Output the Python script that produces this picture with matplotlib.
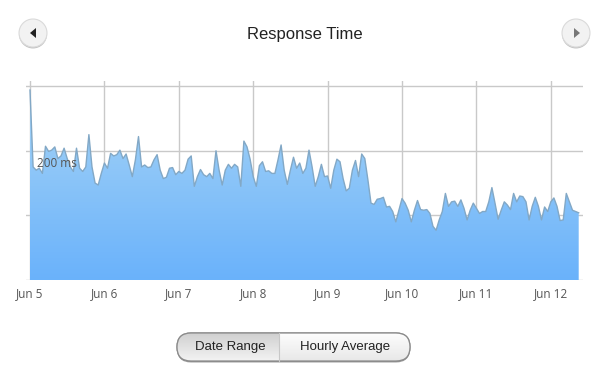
import numpy as np
import matplotlib
matplotlib.use("Agg")
import matplotlib.pyplot as plt
from matplotlib.colors import LinearSegmentedColormap
from matplotlib.patches import Circle, FancyBboxPatch, Polygon

# hourly average response time (ms), starting Jun 5 00:00
response_ms = [
    294, 175, 170, 173, 165, 207, 199, 201, 206, 188, 192, 204, 188, 175, 168, 204,
    173, 168, 175, 225, 175, 150, 147, 165, 181, 173, 196, 192, 194, 201, 188, 195,
    178, 160, 186, 222, 175, 178, 174, 175, 186, 194, 170, 157, 159, 173, 174, 163,
    168, 165, 170, 187, 192, 145, 160, 171, 163, 160, 165, 157, 200, 170, 147, 170,
    179, 173, 179, 175, 145, 215, 206, 187, 160, 145, 177, 183, 168, 169, 165, 165,
    186, 209, 170, 148, 170, 190, 173, 181, 165, 173, 201,
    175, 145, 160, 179, 160, 161, 142, 170, 187, 183, 157, 138, 142, 170, 185, 160,
    195, 188, 155, 119, 117, 125, 126, 128, 113, 114, 106, 90, 108, 126, 119, 108,
    90, 108, 123, 109, 108, 109, 103, 83, 77, 93, 106, 134, 114, 121, 122, 114,
    124, 111, 93, 108, 119, 111, 103, 106, 106, 121, 143, 119, 94, 108, 121, 116,
    109, 134, 121, 130, 129, 121, 93, 114, 128, 114, 93, 113, 106, 121, 127, 114,
    92, 93, 134, 121, 108, 106, 104,
]
day_labels = ["Jun 5", "Jun 6", "Jun 7", "Jun 8", "Jun 9", "Jun 10", "Jun 11", "Jun 12"]
grid_ms = [0, 100, 200, 300]

hours = np.arange(len(response_ms))
W, H = 610, 376

fig = plt.figure(figsize=(W / 100, H / 100), dpi=100)
fig.patch.set_facecolor("white")

# plot area in pixel terms: x 26..583, y 81..280
ax = fig.add_axes([26 / W, 1 - 280 / H, (583 - 26) / W, (280 - 81) / H])
ax.set_xlim(-4 / 3.1, 553 / 3.1)
ax.set_ylim(0, 308)
for s in ax.spines.values():
    s.set_visible(False)

ax.set_xticks(np.arange(len(day_labels)) * 24)
ax.set_xticklabels(day_labels, fontfamily="Open Sans", fontsize=8.5, color="#555555")
ax.set_yticks(grid_ms)
ax.set_yticklabels([])
ax.tick_params(length=0, pad=5)
ax.grid(True, color="#c9c9c9", linewidth=1)
ax.set_axisbelow(True)

# gradient area fill
cmap = LinearSegmentedColormap.from_list("blu", ["#6ab2fb", "#a8d5f6"])
grad = np.linspace(0, 1, 256).reshape(-1, 1)
im = ax.imshow(grad, extent=[hours[0], hours[-1], 0, 300], origin="lower",
               aspect="auto", cmap=cmap, zorder=2)
poly = ax.fill_between(hours, response_ms, 0, facecolor="none", edgecolor="none")
im.set_clip_path(poly.get_paths()[0], transform=ax.transData)
ax.plot(hours, response_ms, color="#82a8c6", linewidth=1, zorder=3)
ax.text(2.2, 180, "200 ms", fontfamily="Open Sans", fontsize=8.5, color="#555555",
        va="center", ha="left", zorder=4)

# overlay for title and controls, in pixel coordinates
ov = fig.add_axes([0, 0, 1, 1], zorder=5)
ov.set_xlim(0, W)
ov.set_ylim(H, 0)
ov.axis("off")
ov.patch.set_alpha(0)

ov.text(305, 35, "Response Time", fontfamily="Liberation Sans", fontsize=12,
        color="#222222", ha="center", va="center")

for cx, pts, col in [(33, [(30, 33), (36, 28), (36, 38)], "#222222"),
                     (576, [(580, 33), (574, 28), (574, 38)], "#777777")]:
    ov.add_patch(Circle((cx, 34.5), 14, facecolor="#c4c4c4", edgecolor="none"))
    ov.add_patch(Circle((cx, 33), 14, facecolor="#f2f2f2", edgecolor="#dadada", linewidth=0.8))
    ov.add_patch(Polygon(pts, closed=True, facecolor=col, edgecolor="none"))

# segmented control
x0, x1, y0, y1, mid = 177, 410, 333, 361, 279
ov.add_patch(FancyBboxPatch((x0, y0 + 1.5), x1 - x0, y1 - y0, boxstyle="round,pad=0,rounding_size=14",
                            facecolor="#a0a0a0", edgecolor="none"))
body = FancyBboxPatch((x0, y0), x1 - x0, y1 - y0, boxstyle="round,pad=0,rounding_size=14",
                      facecolor="#f6f6f6", edgecolor="#8a8a8a", linewidth=0.9)
ov.add_patch(body)
seg = LinearSegmentedColormap.from_list("seg", ["#fdfdfd", "#e8e8e8"])
right = ov.imshow(np.linspace(0, 1, 64).reshape(-1, 1), extent=[x0, x1, y1, y0],
                  cmap=seg, aspect="auto", zorder=1)
right.set_clip_path(body)
seg_l = LinearSegmentedColormap.from_list("segl", ["#d0d0d0", "#f3f3f3"])
left = ov.imshow(np.linspace(0, 1, 64).reshape(-1, 1), extent=[x0, mid, y0, y1],
                 cmap=seg_l, aspect="auto", zorder=1, origin="lower")
left.set_clip_path(body)
ov.add_patch(FancyBboxPatch((x0, y0), x1 - x0, y1 - y0, boxstyle="round,pad=0,rounding_size=14",
                            facecolor="none", edgecolor="#8a8a8a", linewidth=0.9, zorder=2))
ov.plot([mid, mid], [y0, y1], color="#c8c8c8", linewidth=0.8, zorder=2)
ov.text((x0 + mid) / 2 + 2, 347, "Date Range", fontfamily="Liberation Sans", fontsize=9.5,
        color="#222222", ha="center", va="center", zorder=3)
ov.text((mid + x1) / 2 + 1, 347, "Hourly Average", fontfamily="Liberation Sans", fontsize=9.5,
        color="#222222", ha="center", va="center", zorder=3)

fig.savefig("out.png", dpi=100)
